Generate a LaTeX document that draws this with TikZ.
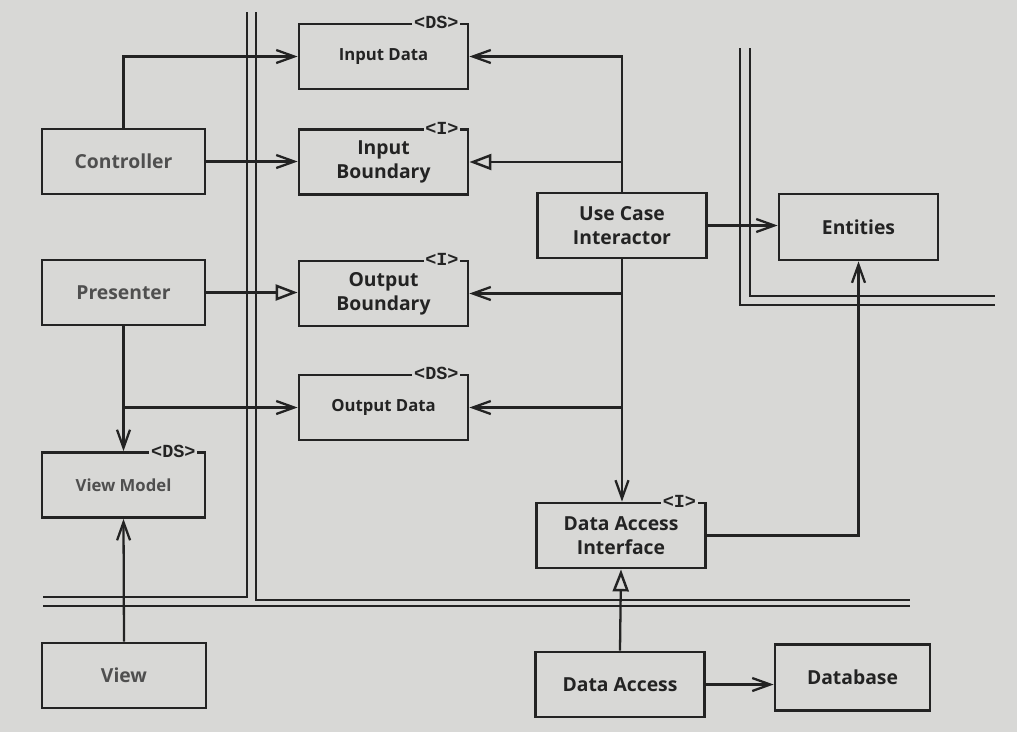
\documentclass[tikz,border=0pt]{standalone}
\usepackage{fontspec}
\setmainfont{Open Sans}
\setmonofont{Liberation Mono}
\usetikzlibrary{positioning,arrows.meta}
\definecolor{paper}{RGB}{216,216,214}
\definecolor{ink}{RGB}{35,35,35}
\tikzset{
    every picture/.style={line width=1.3pt},
    box/.style={draw=ink, line width=1.6pt, rectangle, minimum width=3.38cm, minimum height=1.3cm, align=center, text=ink, font=\fontsize{11}{13.6}\selectfont\bfseries},
    smallbox/.style={box, font=\fontsize{9.5}{12}\selectfont\bfseries},
    stereo/.style={fill=paper, inner sep=1pt, anchor=east, text=ink, font=\fontsize{10.5}{11}\selectfont\ttfamily\bfseries},
    arr/.style={draw=ink, line width=1.3pt, -{Straight Barb[length=3.6mm,width=2.6mm]}},
    tri/.style={draw=ink, line width=1.3pt, -{Triangle[open,length=4.4mm,width=3.2mm,line width=1.4pt]}},
    wall/.style={draw=ink, line width=1.1pt},
}
\begin{document}
\begin{tikzpicture}[x=0.2mm, y=-0.2mm]
    % Paper
    \fill[paper] (0,0) rectangle (1017,732);

    % Boundary walls
    \draw[wall] (247,12) -- (247,597) -- (43,597);
    \draw[wall] (256,12) -- (256,600) -- (910,600);
    \draw[wall] (43,606) -- (910,606);
    \draw[wall] (740,48) -- (740,305) -- (995,305);
    \draw[wall] (750,48) -- (750,296) -- (995,296);

    % Controller side
    \node[box, minimum width=3.26cm, text=ink!80] (ctrl) at (123.5,161.5) {Controller};
    \node[box, minimum width=3.26cm, text=ink!80] (presenter) at (123.5,292.5) {Presenter};
    \node[smallbox, minimum width=3.26cm, text=ink!80] (viewmodel) at (123.5,485) {View Model};
    \node[box, minimum width=3.28cm, text=ink!80] (view) at (124,675.5) {View};

    % Boundaries and data structures
    \node[smallbox] (indata) at (383.5,56.5) {Input Data};
    \node[box] (inbound) at (383.5,162) {Input\\Boundary};
    \node[box] (outbound) at (383.5,293.5) {Output\\Boundary};
    \node[smallbox] (outdata) at (383.5,407.5) {Output Data};

    % Use case
    \node[box] (interactor) at (622,225.5) {Use Case\\Interactor};
    \node[box] (dai) at (621,535.5) {Data Access\\Interface};
    \node[box, minimum width=3.18cm, minimum height=1.32cm] (entities) at (858.5,227) {Entities};

    % Database side
    \node[box] (dataaccess) at (620,684.5) {Data Access};
    \node[box, minimum width=3.1cm, minimum height=1.32cm] (database) at (852.5,677.5) {Database};

    % Stereotypes
    \node[stereo] at ([xshift=-1.6mm]indata.north east) {<DS>};
    \node[stereo] at ([xshift=-1.6mm]inbound.north east) {<I>};
    \node[stereo] at ([xshift=-1.6mm]outbound.north east) {<I>};
    \node[stereo] at ([xshift=-1.6mm]outdata.north east) {<DS>};
    \node[stereo] at ([xshift=-1.6mm]viewmodel.north east) {<DS>};
    \node[stereo] at ([xshift=-1.6mm]dai.north east) {<I>};

    % Connections
    \draw[arr] (ctrl.north) |- (indata.west);
    \draw[arr] (ctrl.east) -- (ctrl.east -| inbound.west);
    \draw[tri] (presenter.east) -- (presenter.east -| outbound.west);
    \draw[arr] (presenter.south) -- (viewmodel.north);
    \draw[arr] (presenter.south |- outdata.west) -- (outdata.west);
    \draw[arr] (view.north) -- (viewmodel.south);
    \draw[arr] (interactor.north) |- (indata.east);
    \draw[tri] (interactor.north |- inbound.east) -- (inbound.east);
    \draw[arr] (interactor.south) -- (interactor.south |- dai.north);
    \draw[arr] (interactor.south |- outbound.east) -- (outbound.east);
    \draw[arr] (interactor.south |- outdata.east) -- (outdata.east);
    \draw[arr] (interactor.east) -- (interactor.east -| entities.west);
    \draw[arr] (dai.east) -| (entities.south);
    \draw[tri] (dataaccess.north) -- (dai.south);
    \draw[arr] (dataaccess.east) -- (dataaccess.east -| database.west);
\end{tikzpicture}
\end{document}
